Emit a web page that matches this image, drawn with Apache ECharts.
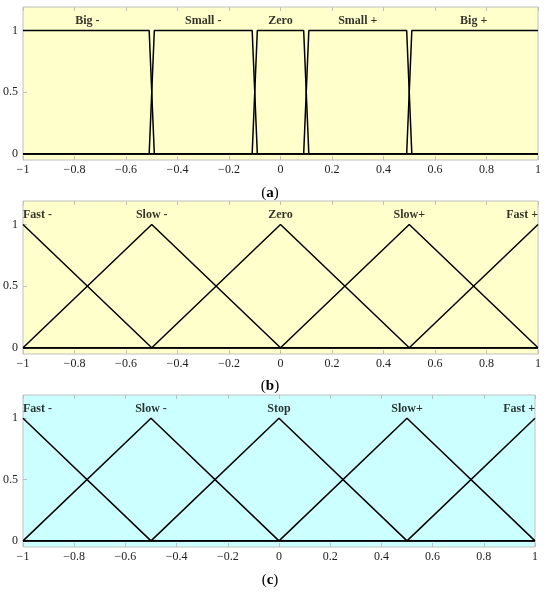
<!DOCTYPE html>
<html>
<head>
<meta charset="utf-8">
<script src="https://cdn.jsdelivr.net/npm/echarts@6/dist/echarts.min.js"></script>
<style>
  html, body { margin: 0; padding: 0; background: #fff; }
  #fuzzyChart { width: 550px; height: 594px; }
</style>
</head>
<body>
<div id="fuzzyChart"></div>
<script>
// panel (a): trapezoid sets
var namesA = ["Big -", "Small -", "Zero", "Small +", "Big +"];
var setsA = [
  [[-1, 1], [-0.51, 1], [-0.49, 0], [1, 0]],
  [[-1, 0], [-0.51, 0], [-0.49, 1], [-0.11, 1], [-0.09, 0], [1, 0]],
  [[-1, 0], [-0.11, 0], [-0.09, 1], [0.09, 1], [0.11, 0], [1, 0]],
  [[-1, 0], [0.09, 0], [0.11, 1], [0.49, 1], [0.51, 0], [1, 0]],
  [[-1, 0], [0.49, 0], [0.51, 1], [1, 1]]
];
var labelXA = [-0.75, -0.3, 0, 0.3, 0.75];

// panels (b) and (c): triangle sets
var namesB = ["Fast -", "Slow -", "Zero", "Slow+", "Fast +"];
var namesC = ["Fast -", "Slow -", "Stop", "Slow+", "Fast +"];
var setsTri = [
  [[-1, 1], [-0.5, 0], [1, 0]],
  [[-1, 0], [-0.5, 1], [0, 0], [1, 0]],
  [[-1, 0], [-0.5, 0], [0, 1], [0.5, 0], [1, 0]],
  [[-1, 0], [0, 0], [0.5, 1], [1, 0]],
  [[-1, 0], [0.5, 0], [1, 1]]
];
var labelXTri = [-1, -0.5, 0, 0.5, 1];
var labelY = 1.075;
var yTicks = [0, 0.5, 1];

var captions = ["a", "b", "c"];
var bgColors = ["#ffffcc", "#ffffcc", "#ccffff"];
var gridBoxes = [
  { left: 21, right: 12, top: 7, height: 153 },
  { left: 19, right: 12, top: 201, height: 153 },
  { left: 23, right: 15, top: 395, height: 152 }
];
var captionY = [193, 386, 580];

var myChart = echarts.init(document.getElementById("fuzzyChart"));
var font = "Liberation Serif";
var gray = "#c0c0c0";

var grid = [], xAxis = [], yAxis = [], series = [], graphic = [];

function minus(v) {
  return String(v).replace("-", "\u2212");
}

for (var p = 0; p < 3; p++) {
  var box = gridBoxes[p];
  grid.push({
    left: box.left, right: box.right, top: box.top, height: box.height,
    show: true, backgroundColor: bgColors[p], borderColor: gray, borderWidth: 1
  });
  // bottom axis with labels
  xAxis.push({
    gridIndex: p, type: "value", min: -1, max: 1, interval: 0.2,
    axisLine: { show: false, onZero: false },
    axisTick: { show: true, inside: true, length: 4, lineStyle: { color: gray } },
    splitLine: { show: false },
    axisLabel: {
      color: "#222", fontFamily: font, fontSize: 12, margin: 4,
      formatter: function (v) { return minus(Math.round(v * 10) / 10); }
    }
  });
  // top mirrored ticks
  xAxis.push({
    gridIndex: p, type: "value", min: -1, max: 1, interval: 0.2, position: "top",
    axisLine: { show: false, onZero: false },
    axisTick: { show: true, inside: true, length: 4, lineStyle: { color: gray } },
    splitLine: { show: false },
    axisLabel: { show: false }
  });
  yAxis.push({
    gridIndex: p, type: "value", min: -0.05, max: 1.19,
    axisLine: { show: false, onZero: false },
    splitLine: { show: false },
    axisTick: { show: true, inside: true, length: 4, customValues: yTicks, lineStyle: { color: gray } },
    axisLabel: {
      color: "#222", fontFamily: font, fontSize: 12, margin: 5, customValues: yTicks
    }
  });

  var sets = p === 0 ? setsA : setsTri;
  var names = p === 0 ? namesA : (p === 1 ? namesB : namesC);
  var labelX = p === 0 ? labelXA : labelXTri;

  for (var i = 0; i < sets.length; i++) {
    series.push({
      name: names[i], type: "line", xAxisIndex: p * 2, yAxisIndex: p,
      data: sets[i], symbol: "none", animation: false,
      lineStyle: { color: "#000", width: 1.5 }
    });
  }

  // set names written above each peak
  series.push({
    type: "scatter", xAxisIndex: p * 2, yAxisIndex: p, symbolSize: 0, animation: false,
    data: labelX.map(function (x, i) {
      var align = "center";
      if (p > 0 && i === 0) align = "left";
      if (p > 0 && i === labelX.length - 1) align = "right";
      return {
        value: [x, labelY],
        label: {
          show: true, position: "inside", formatter: names[i], align: align,
          fontFamily: font, fontWeight: "bold", fontSize: 12, color: "#000"
        }
      };
    })
  });

  graphic.push({
    type: "text", x: 270, y: captionY[p],
    style: {
      text: "({b|" + captions[p] + "})", align: "center", verticalAlign: "middle",
      font: "15px " + font, fill: "#000",
      rich: { b: { fontFamily: font, fontSize: 15, fontWeight: "bold" } }
    }
  });
}

var option = {
  backgroundColor: "#fff",
  animation: false,
  grid: grid,
  xAxis: xAxis,
  yAxis: yAxis,
  series: series,
  graphic: graphic
};
myChart.setOption(option);
</script>
</body>
</html>
